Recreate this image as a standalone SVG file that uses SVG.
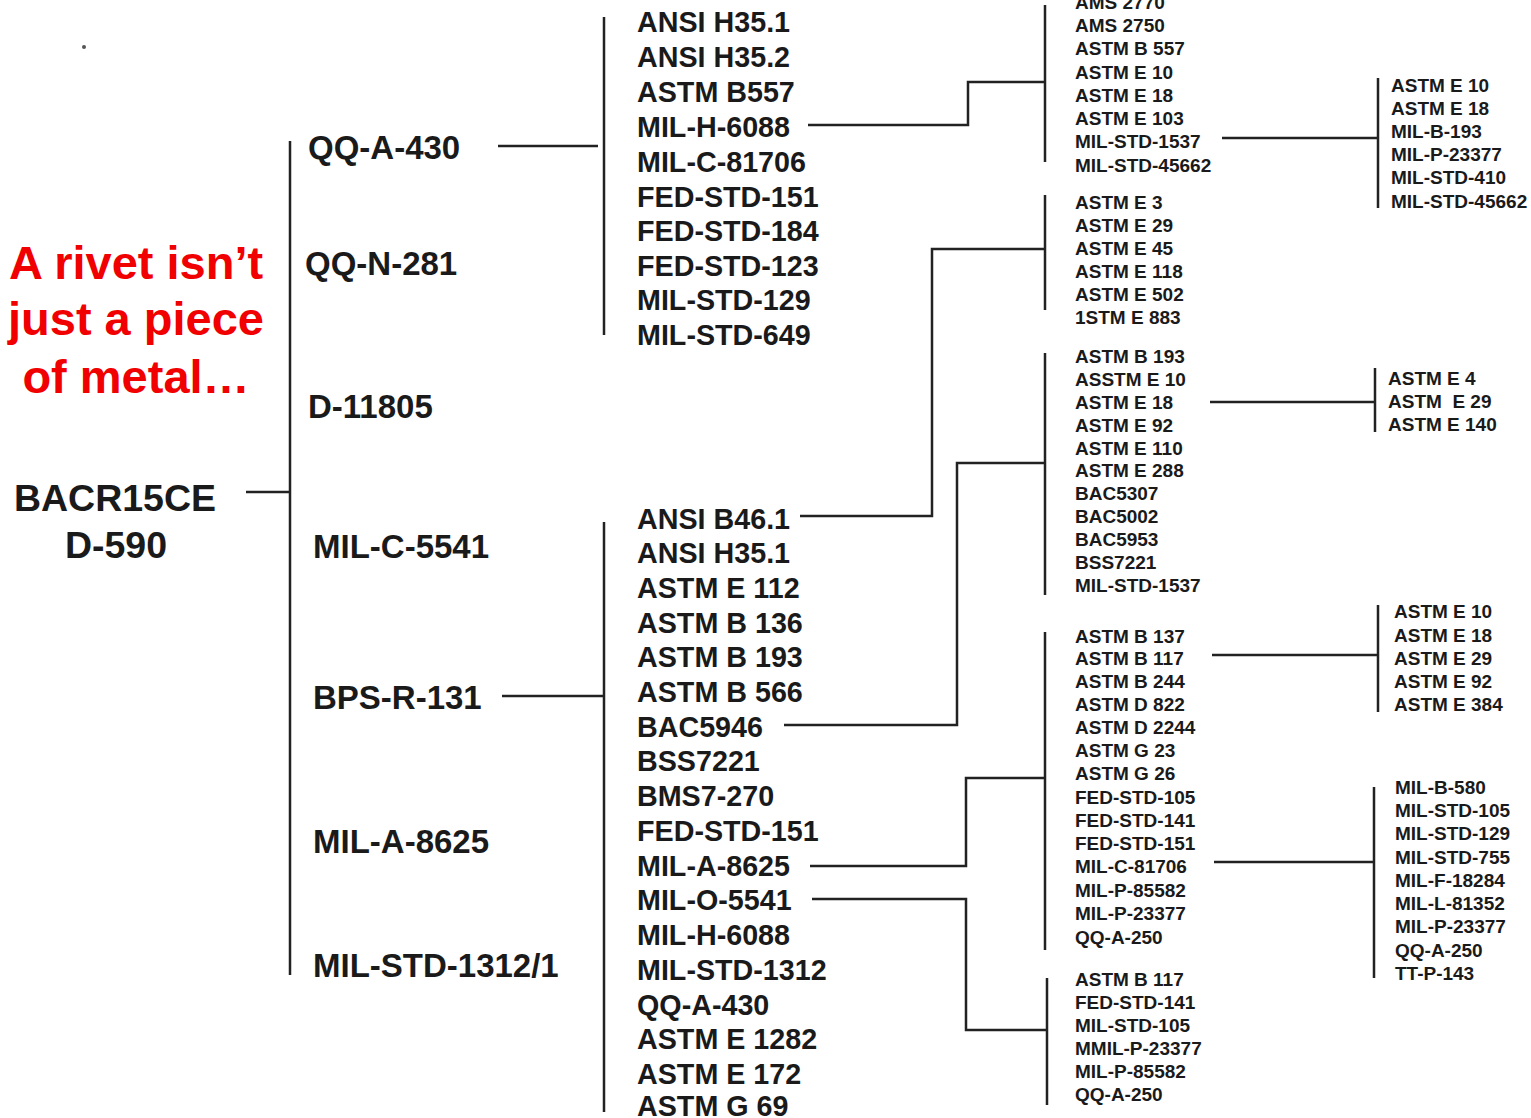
<svg xmlns="http://www.w3.org/2000/svg" width="1531" height="1118" viewBox="0 0 1531 1118">
<style>
text{font-family:"Liberation Sans",Arial,sans-serif;font-weight:bold;fill:#1a1a1a}
.root{font-size:37.5px;text-anchor:middle}
.l1{font-size:33px}
.l2{font-size:28.7px}
.l3{font-size:19px}
.red{font-size:47px;fill:#f00000;text-anchor:middle}
.c{fill:none;stroke:#222;stroke-width:2.5}
</style>
<rect width="1531" height="1118" fill="#ffffff"/>
<circle cx="84" cy="47" r="2" fill="#555"/>
<g id="caption">
<text class="red" x="136" y="279">A rivet isn’t</text>
<text class="red" x="136" y="335">just a piece</text>
<text class="red" x="136" y="393">of metal…</text>
</g>
<g id="connectors">
<path class="c" d="M246 492H290M290 141V975"/>
<path class="c" d="M498 146H598M604 17V335"/>
<path class="c" d="M502 696H604M604 522V1112"/>
<path class="c" d="M808 125H968V82H1045M1045 5V162"/>
<path class="c" d="M1222 138H1378M1378 78V208"/>
<path class="c" d="M800 516H932V249H1045M1045 195V310"/>
<path class="c" d="M784 725H957V463H1045M1045 353V595"/>
<path class="c" d="M1210 402H1375M1375 368V432"/>
<path class="c" d="M810 866H966V778H1045M1045 632V950"/>
<path class="c" d="M812 899H966V1030H1047M1047 978V1105"/>
<path class="c" d="M1212 655H1378M1378 605V712"/>
<path class="c" d="M1214 862H1374M1374 787V978"/>
</g>
<g id="root">
<text class="root" x="115" y="511">BACR15CE</text>
<text class="root" x="116" y="558">D-590</text>
</g>
<g id="level1">
<text class="l1" x="308" y="159">QQ-A-430</text>
<text class="l1" x="305" y="275">QQ-N-281</text>
<text class="l1" x="308" y="418">D-11805</text>
<text class="l1" x="313" y="558">MIL-C-5541</text>
<text class="l1" x="313" y="709">BPS-R-131</text>
<text class="l1" x="313" y="853">MIL-A-8625</text>
<text class="l1" x="313" y="977">MIL-STD-1312/1</text>
</g>
<g id="qq-a-430-refs">
<text class="l2" x="637" y="32">ANSI H35.1</text>
<text class="l2" x="637" y="67">ANSI H35.2</text>
<text class="l2" x="637" y="102">ASTM B557</text>
<text class="l2" x="637" y="137">MIL-H-6088</text>
<text class="l2" x="637" y="172">MIL-C-81706</text>
<text class="l2" x="637" y="207">FED-STD-151</text>
<text class="l2" x="637" y="241">FED-STD-184</text>
<text class="l2" x="637" y="276">FED-STD-123</text>
<text class="l2" x="637" y="310">MIL-STD-129</text>
<text class="l2" x="637" y="345">MIL-STD-649</text>
</g>
<g id="bps-r-131-refs">
<text class="l2" x="637" y="529">ANSI B46.1</text>
<text class="l2" x="637" y="563">ANSI H35.1</text>
<text class="l2" x="637" y="598">ASTM E 112</text>
<text class="l2" x="637" y="633">ASTM B 136</text>
<text class="l2" x="637" y="667">ASTM B 193</text>
<text class="l2" x="637" y="702">ASTM B 566</text>
<text class="l2" x="637" y="737">BAC5946</text>
<text class="l2" x="637" y="771">BSS7221</text>
<text class="l2" x="637" y="806">BMS7-270</text>
<text class="l2" x="637" y="841">FED-STD-151</text>
<text class="l2" x="637" y="876">MIL-A-8625</text>
<text class="l2" x="637" y="910">MIL-O-5541</text>
<text class="l2" x="637" y="945">MIL-H-6088</text>
<text class="l2" x="637" y="980">MIL-STD-1312</text>
<text class="l2" x="637" y="1015">QQ-A-430</text>
<text class="l2" x="637" y="1049">ASTM E 1282</text>
<text class="l2" x="637" y="1084">ASTM E 172</text>
<text class="l2" x="637" y="1116">ASTM G 69</text>
</g>
<g id="mil-h-6088-refs">
<text class="l3" x="1075" y="9">AMS 2770</text>
<text class="l3" x="1075" y="32">AMS 2750</text>
<text class="l3" x="1075" y="55">ASTM B 557</text>
<text class="l3" x="1075" y="79">ASTM E 10</text>
<text class="l3" x="1075" y="102">ASTM E 18</text>
<text class="l3" x="1075" y="125">ASTM E 103</text>
<text class="l3" x="1075" y="148">MIL-STD-1537</text>
<text class="l3" x="1075" y="172">MIL-STD-45662</text>
</g>
<g id="mil-std-1537-refs">
<text class="l3" x="1391" y="92">ASTM E 10</text>
<text class="l3" x="1391" y="115">ASTM E 18</text>
<text class="l3" x="1391" y="138">MIL-B-193</text>
<text class="l3" x="1391" y="161">MIL-P-23377</text>
<text class="l3" x="1391" y="184">MIL-STD-410</text>
<text class="l3" x="1391" y="208">MIL-STD-45662</text>
</g>
<g id="ansi-b46-refs">
<text class="l3" x="1075" y="209">ASTM E 3</text>
<text class="l3" x="1075" y="232">ASTM E 29</text>
<text class="l3" x="1075" y="255">ASTM E 45</text>
<text class="l3" x="1075" y="278">ASTM E 118</text>
<text class="l3" x="1075" y="301">ASTM E 502</text>
<text class="l3" x="1075" y="324">1STM E 883</text>
</g>
<g id="bac5946-refs">
<text class="l3" x="1075" y="363">ASTM B 193</text>
<text class="l3" x="1075" y="386">ASSTM E 10</text>
<text class="l3" x="1075" y="409">ASTM E 18</text>
<text class="l3" x="1075" y="432">ASTM E 92</text>
<text class="l3" x="1075" y="455">ASTM E 110</text>
<text class="l3" x="1075" y="477">ASTM E 288</text>
<text class="l3" x="1075" y="500">BAC5307</text>
<text class="l3" x="1075" y="523">BAC5002</text>
<text class="l3" x="1075" y="546">BAC5953</text>
<text class="l3" x="1075" y="569">BSS7221</text>
<text class="l3" x="1075" y="592">MIL-STD-1537</text>
</g>
<g id="astm-e18-refs">
<text class="l3" x="1388" y="385">ASTM E 4</text>
<text class="l3" x="1388" y="408" xml:space="preserve">ASTM  E 29</text>
<text class="l3" x="1388" y="431">ASTM E 140</text>
</g>
<g id="mil-a-8625-refs">
<text class="l3" x="1075" y="643">ASTM B 137</text>
<text class="l3" x="1075" y="665">ASTM B 117</text>
<text class="l3" x="1075" y="688">ASTM B 244</text>
<text class="l3" x="1075" y="711">ASTM D 822</text>
<text class="l3" x="1075" y="734">ASTM D 2244</text>
<text class="l3" x="1075" y="757">ASTM G 23</text>
<text class="l3" x="1075" y="780">ASTM G 26</text>
<text class="l3" x="1075" y="804">FED-STD-105</text>
<text class="l3" x="1075" y="827">FED-STD-141</text>
<text class="l3" x="1075" y="850">FED-STD-151</text>
<text class="l3" x="1075" y="873">MIL-C-81706</text>
<text class="l3" x="1075" y="897">MIL-P-85582</text>
<text class="l3" x="1075" y="920">MIL-P-23377</text>
<text class="l3" x="1075" y="944">QQ-A-250</text>
</g>
<g id="astm-b117-refs">
<text class="l3" x="1394" y="618">ASTM E 10</text>
<text class="l3" x="1394" y="642">ASTM E 18</text>
<text class="l3" x="1394" y="665">ASTM E 29</text>
<text class="l3" x="1394" y="688">ASTM E 92</text>
<text class="l3" x="1394" y="711">ASTM E 384</text>
</g>
<g id="mil-c-81706-refs">
<text class="l3" x="1395" y="794">MIL-B-580</text>
<text class="l3" x="1395" y="817">MIL-STD-105</text>
<text class="l3" x="1395" y="840">MIL-STD-129</text>
<text class="l3" x="1395" y="864">MIL-STD-755</text>
<text class="l3" x="1395" y="887">MIL-F-18284</text>
<text class="l3" x="1395" y="910">MIL-L-81352</text>
<text class="l3" x="1395" y="933">MIL-P-23377</text>
<text class="l3" x="1395" y="957">QQ-A-250</text>
<text class="l3" x="1395" y="980">TT-P-143</text>
</g>
<g id="mil-o-5541-refs">
<text class="l3" x="1075" y="986">ASTM B 117</text>
<text class="l3" x="1075" y="1009">FED-STD-141</text>
<text class="l3" x="1075" y="1032">MIL-STD-105</text>
<text class="l3" x="1075" y="1055">MMIL-P-23377</text>
<text class="l3" x="1075" y="1078">MIL-P-85582</text>
<text class="l3" x="1075" y="1101">QQ-A-250</text>
</g>
</svg>
